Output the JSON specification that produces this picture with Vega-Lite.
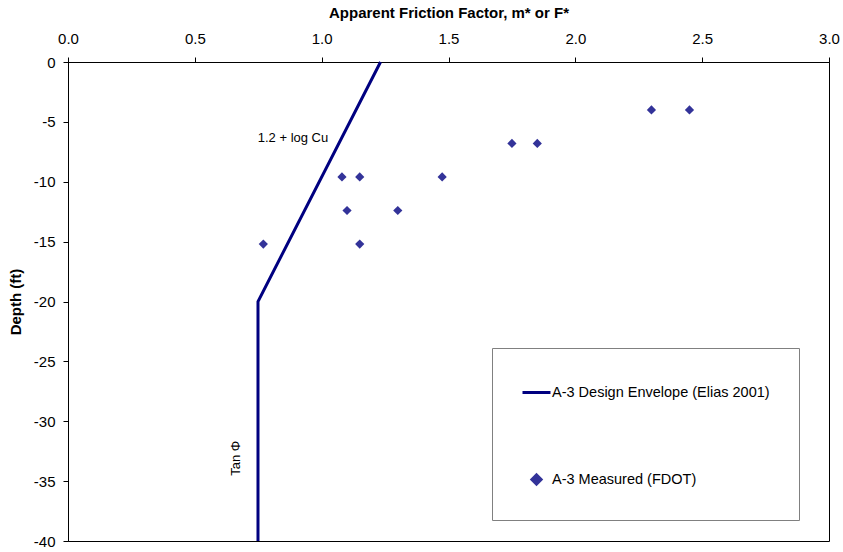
{
  "$schema": "https://vega.github.io/schema/vega-lite/v6.json",
  "width": 761,
  "height": 479,
  "autosize": {"type": "none"},
  "padding": {"left": 68, "top": 62, "right": 14, "bottom": 11},
  "background": "#ffffff",
  "config": {
    "font": "Liberation Sans",
    "view": {"stroke": "#000000", "strokeWidth": 1},
    "axis": {
      "domainColor": "#000000",
      "tickColor": "#000000",
      "labelColor": "#000000",
      "titleColor": "#000000",
      "labelFont": "Liberation Sans",
      "titleFont": "Liberation Sans",
      "labelFontSize": 15,
      "titleFontSize": 15,
      "titleFontWeight": "bold",
      "labelFlush": false,
      "tickSize": 5,
      "grid": false
    }
  },
  "datasets": {
    "envelope": [
      {"step": 1, "factor": 1.232, "depth": 0, "series": "A-3 Design Envelope (Elias 2001)"},
      {"step": 2, "factor": 0.749, "depth": -20, "series": "A-3 Design Envelope (Elias 2001)"},
      {"step": 3, "factor": 0.749, "depth": -40, "series": "A-3 Design Envelope (Elias 2001)"}
    ],
    "measured": [
      {"factor": 2.30, "depth": -4.0, "series": "A-3 Measured (FDOT)"},
      {"factor": 2.45, "depth": -4.0, "series": "A-3 Measured (FDOT)"},
      {"factor": 1.75, "depth": -6.8, "series": "A-3 Measured (FDOT)"},
      {"factor": 1.85, "depth": -6.8, "series": "A-3 Measured (FDOT)"},
      {"factor": 1.08, "depth": -9.6, "series": "A-3 Measured (FDOT)"},
      {"factor": 1.15, "depth": -9.6, "series": "A-3 Measured (FDOT)"},
      {"factor": 1.475, "depth": -9.6, "series": "A-3 Measured (FDOT)"},
      {"factor": 1.10, "depth": -12.4, "series": "A-3 Measured (FDOT)"},
      {"factor": 1.30, "depth": -12.4, "series": "A-3 Measured (FDOT)"},
      {"factor": 0.77, "depth": -15.2, "series": "A-3 Measured (FDOT)"},
      {"factor": 1.15, "depth": -15.2, "series": "A-3 Measured (FDOT)"}
    ],
    "notes": [
      {"factor": 0.887, "depth": -6.35, "note": "1.2 + log Cu", "angle": 0},
      {"factor": 0.662, "depth": -33.1, "note": "Tan Φ", "angle": 270}
    ]
  },
  "encoding": {
    "x": {
      "field": "factor",
      "type": "quantitative",
      "scale": {"domain": [0, 3], "nice": false, "zero": false},
      "axis": {
        "orient": "top",
        "title": "Apparent Friction Factor, m* or F*",
        "values": [0, 0.5, 1, 1.5, 2, 2.5, 3],
        "format": ".1f",
        "labelPadding": 11,
        "titlePadding": 11
      }
    },
    "y": {
      "field": "depth",
      "type": "quantitative",
      "scale": {"domain": [-40, 0], "nice": false, "zero": false},
      "axis": {
        "title": "Depth (ft)",
        "values": [0, -5, -10, -15, -20, -25, -30, -35, -40],
        "labelExpr": "'' + datum.value",
        "labelPadding": 8,
        "titlePadding": 10
      }
    }
  },
  "layer": [
    {
      "data": {"name": "envelope"},
      "mark": {"type": "line", "strokeWidth": 3},
      "encoding": {
        "order": {"field": "step", "type": "quantitative"},
        "color": {
          "field": "series",
          "type": "nominal",
          "scale": {
            "domain": ["A-3 Design Envelope (Elias 2001)", "A-3 Measured (FDOT)"],
            "range": ["#000080", "#333399"]
          },
          "legend": {
            "title": null,
            "orient": "none",
            "legendX": 424,
            "legendY": 286,
            "padding": 29,
            "rowPadding": 65,
            "strokeColor": "#808080",
            "fillColor": "#ffffff",
            "symbolSize": 784,
            "labelFont": "Liberation Sans",
            "labelFontSize": 14.5,
            "labelColor": "#000000",
            "labelOffset": 0,
            "labelLimit": 400,
            "encode": {
              "symbols": {
                "update": {
                  "shape": {"signal": "datum.value === 'A-3 Measured (FDOT)' ? 'diamond' : 'stroke'"},
                  "size": {"signal": "datum.value === 'A-3 Measured (FDOT)' ? 85 : 784"},
                  "fill": {"signal": "datum.value === 'A-3 Measured (FDOT)' ? '#333399' : 'transparent'"},
                  "stroke": {"signal": "datum.value === 'A-3 Measured (FDOT)' ? 'transparent' : '#000080'"},
                  "strokeWidth": {"value": 3},
                  "opacity": {"value": 1}
                }
              }
            }
          }
        }
      }
    },
    {
      "data": {"name": "measured"},
      "mark": {"type": "point", "shape": "diamond", "filled": true, "size": 85, "opacity": 1},
      "encoding": {
        "color": {"field": "series", "type": "nominal"}
      }
    },
    {
      "data": {"name": "notes"},
      "mark": {"type": "text", "fontSize": 13, "font": "Liberation Sans", "color": "#000000", "align": "center", "baseline": "middle"},
      "encoding": {
        "text": {"field": "note"},
        "angle": {"field": "angle", "type": "quantitative", "scale": null}
      }
    }
  ]
}
